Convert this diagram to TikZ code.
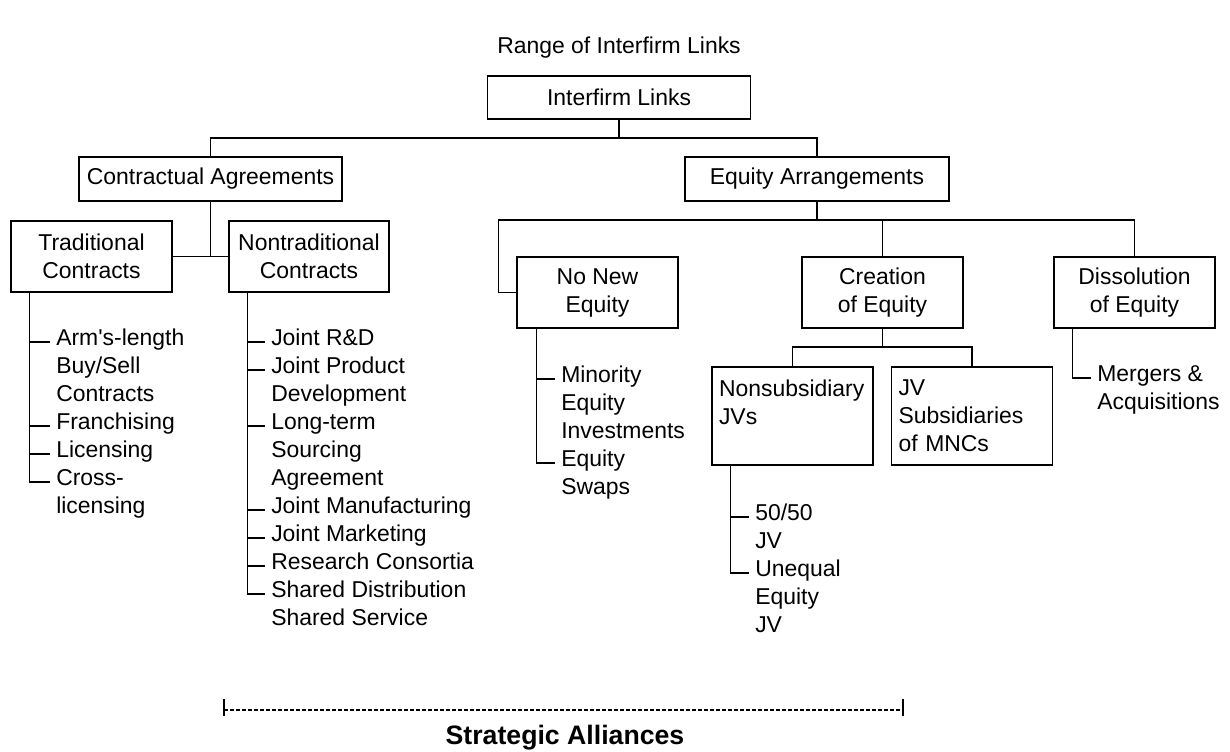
\documentclass[tikz,border=0pt]{standalone}
\usepackage{fontspec}
\setmainfont{Liberation Sans}
\usetikzlibrary{calc}
\newcommand{\leafstack}[1]{\begin{tabular}[t]{@{}l@{}}#1\end{tabular}}
\tikzset{
	orgbox/.style={draw, line width=1pt, align=center, inner sep=0pt},
	jvbox/.style={draw, line width=1pt, align=left, inner xsep=5.25pt, text width=110.25pt, minimum height=73.5pt},
	leaf/.style={anchor=mid west, inner xsep=4.5pt, inner ysep=0pt},
	link/.style={line width=1pt},
}

\begin{document}
\begin{tikzpicture}[x=0.75pt, y=-0.75pt, font=\fontsize{17.2}{21}\selectfont]
		%%%%% START %%%%%
		\useasboundingbox (0, 0) rectangle (1230, 751);
		
		\node (title) at (619, 48) {Range of Interfirm Links};
		
		\node[orgbox, minimum width=197.6pt, minimum height=32.25pt] (links) at (619, 97.5) {Interfirm Links};
		\node[orgbox, minimum width=197.25pt, minimum height=33pt] (contract) at (210.5, 179) {Contractual Agreements};
		\node[orgbox, minimum width=198pt, minimum height=33pt] (equity) at (817, 179) {Equity Arrangements};
		
		\node[orgbox, minimum width=120.75pt, minimum height=53.25pt] (trad) at (91.5, 256.5) {Traditional\\Contracts};
		\node[orgbox, minimum width=120pt, minimum height=53.25pt] (nontrad) at (309, 256.5) {Nontraditional\\Contracts};
		\node[orgbox, minimum width=120.75pt, minimum height=53.25pt] (nonew) at (597.5, 292.5) {No New\\Equity};
		\node[orgbox, minimum width=120.75pt, minimum height=53.25pt] (create) at (882.5, 292.5) {Creation\\of Equity};
		\node[orgbox, minimum width=120.75pt, minimum height=53.25pt] (dissolve) at (1134.5, 292.5) {Dissolution\\of Equity};
		
		\node[jvbox] (nonsub) at (792.5, 416) {Nonsubsidiary\\JVs\\\phantom{X}};
		\node[jvbox] (jvsub) at (972, 416) {JV\\Subsidiaries\\of MNCs};
		
		% upper levels
		\coordinate (bus1) at (619, 138);
		\draw[link] (links.south) -- (bus1);
		\draw[link] (contract.north) |- (bus1) -| (equity.north);
		
		\draw[link] (contract.south) -- (contract.south |- trad.east);
		\draw[link] (trad.east) -- (nontrad.west);
		
		\coordinate (bus2) at (817, 220);
		\draw[link] (equity.south) -- (bus2);
		\draw[link] (nonew.west) -- ++(-18, 0) |- (bus2) -| (dissolve.north);
		\draw[link] (create.north) -- (create.north |- bus2);
		
		\coordinate (bus3) at (882.5, 347);
		\draw[link] (create.south) -- (bus3);
		\draw[link] (nonsub.north) |- (bus3) -| (jvsub.north);
		
		% lists
		\node[leaf] (tr1) at (50, 342) {\leafstack{Arm\textquotesingle s-length\\Buy/Sell\\Contracts}};
		\node[leaf] (tr2) at (50, 426) {Franchising};
		\node[leaf] (tr3) at (50, 454) {Licensing};
		\node[leaf] (tr4) at (50, 482) {\leafstack{Cross-\\licensing}};
		
		\node[leaf] (nt1) at (265, 342) {Joint R\&D};
		\node[leaf] (nt2) at (265, 370) {\leafstack{Joint Product\\Development}};
		\node[leaf] (nt3) at (265, 426) {\leafstack{Long-term\\Sourcing\\Agreement}};
		\node[leaf] (nt4) at (265, 510) {Joint Manufacturing};
		\node[leaf] (nt5) at (265, 538) {Joint Marketing};
		\node[leaf] (nt6) at (265, 566) {Research Consortia};
		\node[leaf] (nt7) at (265, 594) {\leafstack{Shared Distribution\\Shared Service}};
		
		\node[leaf] (ne1) at (555, 379) {\leafstack{Minority\\Equity\\Investments}};
		\node[leaf] (ne2) at (555, 463) {\leafstack{Equity\\Swaps}};
		
		\node[leaf] (ns1) at (749, 517) {\leafstack{50/50\\JV}};
		\node[leaf] (ns2) at (749, 573) {\leafstack{Unequal\\Equity\\JV}};
		
		\node[leaf] (mg) at (1091, 378) {\leafstack{Mergers \&\\Acquisitions}};
		
		\coordinate (trspine) at ([xshift=14.25pt]trad.south west);
		\draw[link] (trspine) |- (tr4.mid west);
		\foreach \i in {1,2,3}
			\draw[link] (tr\i.mid west) -- (tr\i.mid west -| trspine);
		
		\coordinate (ntspine) at ([xshift=14.25pt]nontrad.south west);
		\draw[link] (ntspine) |- (nt7.mid west);
		\foreach \i in {1,...,6}
			\draw[link] (nt\i.mid west) -- (nt\i.mid west -| ntspine);
		
		\coordinate (nespine) at ([xshift=15pt]nonew.south west);
		\draw[link] (nespine) |- (ne2.mid west);
		\draw[link] (ne1.mid west) -- (ne1.mid west -| nespine);
		
		\coordinate (nsspine) at ([xshift=14.25pt]nonsub.south west);
		\draw[link] (nsspine) |- (ns2.mid west);
		\draw[link] (ns1.mid west) -- (ns1.mid west -| nsspine);
		
		\coordinate (mgspine) at ([xshift=14.25pt]dissolve.south west);
		\draw[link] (mgspine) |- (mg.mid west);
		
		% bracket
		\node[font=\bfseries\fontsize{20}{24}\selectfont] (sa) at (565, 738) {Strategic Alliances};
		\coordinate (brl) at (224, 710);
		\coordinate (brr) at (903, 710);
		\draw[line width=0.9pt, dash pattern=on 3pt off 1.5pt] (brl) -- (brr);
		\draw[line width=1.5pt] (brl) ++(0, -11) -- ++(0, 17);
		\draw[line width=1.5pt] (brr) ++(0, -11) -- ++(0, 17);
		
		%%%%% END %%%%%
	\end{tikzpicture}
\end{document}
